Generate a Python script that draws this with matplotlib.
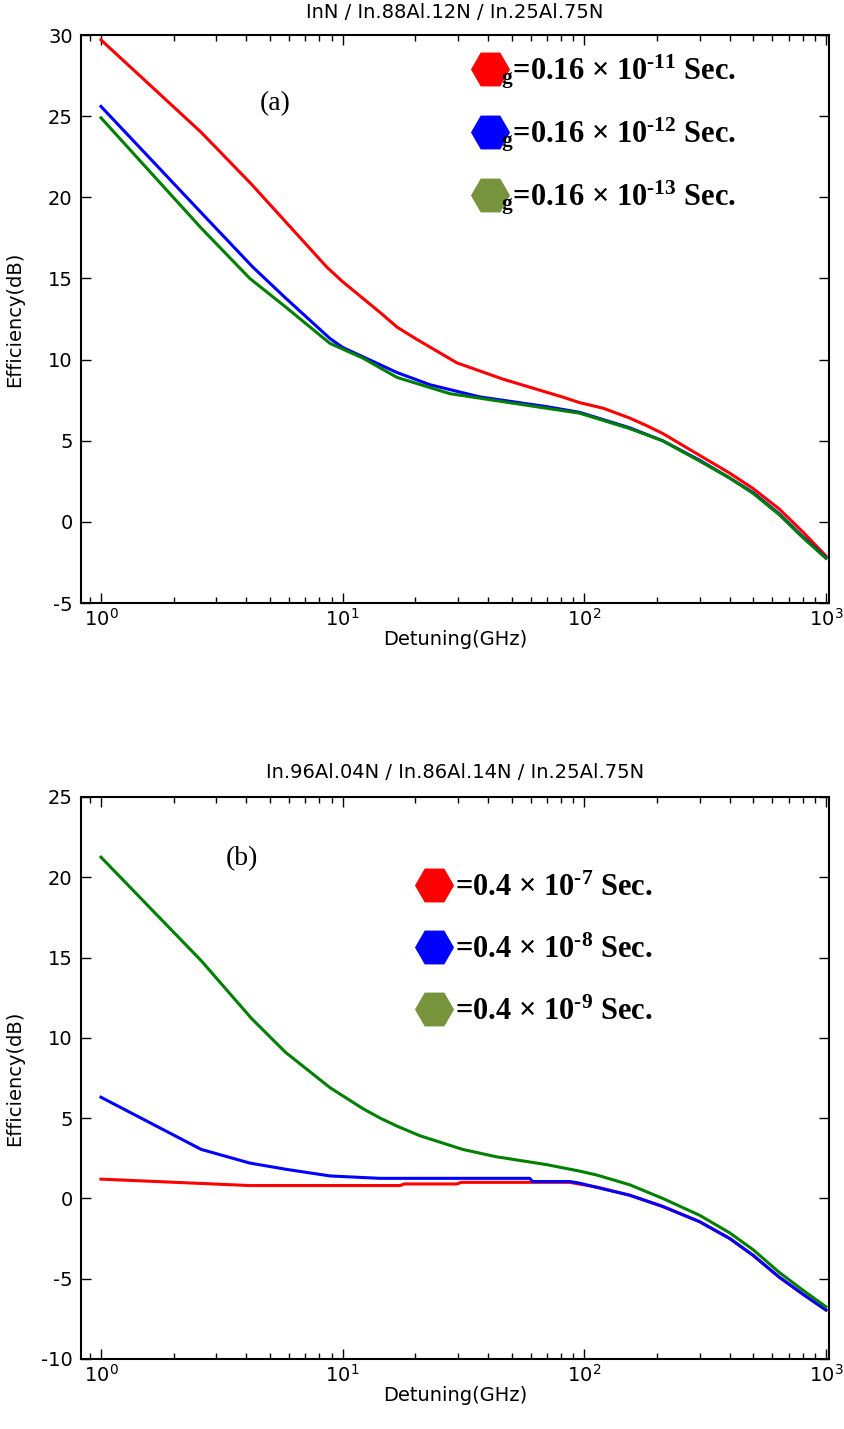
import matplotlib.pyplot as plt
from matplotlib.lines import Line2D

plt.rcParams['axes.unicode_minus'] = False

# panel (a): InN / In.88Al.12N / In.25Al.75N
a_red_x = [1, 2.6, 4.2, 5.8, 8.6, 10, 14.3, 16.8, 20, 29.7, 46, 81, 95.6, 120, 154, 180, 211, 250, 300, 400, 500, 640, 800, 1000]
a_red_y = [29.7, 24.0, 20.8, 18.5, 15.7, 14.8, 12.9, 12.0, 11.3, 9.8, 8.8, 7.7, 7.35, 7.0, 6.4, 5.95, 5.45, 4.8, 4.1, 3.0, 2.05, 0.8, -0.6, -2.1]
a_blue_x = [1, 2.6, 4.25, 5.8, 8.86, 10, 13.3, 16.8, 23, 37, 70, 95.6, 154, 211, 300, 400, 500, 640, 800, 1000]
a_blue_y = [25.6, 19.05, 15.7, 13.8, 11.3, 10.75, 9.9, 9.2, 8.45, 7.7, 7.1, 6.75, 5.8, 5.0, 3.8, 2.7, 1.8, 0.5, -0.9, -2.2]
a_green_x = [1, 2.6, 4.13, 5.8, 8.86, 12.1, 16.8, 27.8, 70, 95.6, 154, 211, 300, 400, 500, 640, 800, 1000]
a_green_y = [24.9, 18.1, 15.0, 13.25, 11.0, 10.1, 8.9, 7.9, 7.0, 6.7, 5.75, 5.0, 3.75, 2.7, 1.75, 0.45, -0.95, -2.25]

# panel (b): In.96Al.04N / In.86Al.14N / In.25Al.75N
b_red_x = [1, 4.13, 17.3, 18, 29.7, 31, 87, 113, 154, 211, 300, 400, 500, 640, 800, 1000]
b_red_y = [1.2, 0.8, 0.8, 0.9, 0.9, 1.0, 1.0, 0.7, 0.2, -0.5, -1.45, -2.5, -3.55, -4.9, -5.95, -6.95]
b_blue_x = [1, 2.6, 4.13, 5.9, 8.86, 12.1, 14.3, 59.5, 61, 87, 95.6, 113, 154, 211, 300, 400, 500, 640, 800, 1000]
b_blue_y = [6.3, 3.05, 2.2, 1.8, 1.4, 1.3, 1.25, 1.25, 1.05, 1.05, 0.95, 0.68, 0.2, -0.5, -1.45, -2.5, -3.55, -4.9, -5.95, -6.95]
b_green_x = [1, 2.6, 4.2, 5.8, 8.86, 12.1, 14.3, 16.8, 20.9, 31.4, 43, 70, 95.6, 113, 154, 211, 300, 400, 500, 640, 800, 1000]
b_green_y = [21.25, 14.8, 11.2, 9.1, 6.9, 5.6, 5.0, 4.5, 3.9, 3.05, 2.6, 2.1, 1.7, 1.45, 0.85, 0.0, -1.05, -2.15, -3.2, -4.6, -5.7, -6.75]

line_colors = ['#ff0000', '#0000ff', '#008000']
marker_colors = ['#ff0000', '#0000ff', '#77933c']

labels_a = [r"$\mathregular{_{g}}$=0.16 × 10$\mathregular{^{‐11}}$ Sec.",
            r"$\mathregular{_{g}}$=0.16 × 10$\mathregular{^{‐12}}$ Sec.",
            r"$\mathregular{_{g}}$=0.16 × 10$\mathregular{^{‐13}}$ Sec."]
labels_b = [r"=0.4 × 10$\mathregular{^{‐7}}$ Sec.",
            r"=0.4 × 10$\mathregular{^{‐8}}$ Sec.",
            r"=0.4 × 10$\mathregular{^{‐9}}$ Sec."]

xticks = [1, 10, 100, 1000]
xtick_labels = [r"$\mathregular{10^{0}}$", r"$\mathregular{10^{1}}$",
                r"$\mathregular{10^{2}}$", r"$\mathregular{10^{3}}$"]

fig = plt.figure(figsize=(8.45, 14.29), dpi=100)
ax1 = fig.add_axes([0.0959, 0.578, 0.885, 0.3975])
ax2 = fig.add_axes([0.0959, 0.049, 0.885, 0.3933])


def style(ax, title, ylim, yticks, title_pad):
    ax.set_xscale('log')
    ax.set_xlim(0.827, 1028)
    ax.set_ylim(*ylim)
    ax.set_yticks(yticks)
    ax.set_xticks(xticks)
    ax.set_xticklabels(xtick_labels)
    ax.tick_params(which='both', direction='in', top=True, right=True, labelsize=14, width=1)
    ax.tick_params(which='major', length=7)
    ax.tick_params(which='minor', length=4)
    ax.tick_params(axis='y', pad=6)
    for s in ax.spines.values():
        s.set_linewidth(1.5)
    ax.set_xlabel('Detuning(GHz)', fontsize=14, labelpad=0)
    ax.set_ylabel('Efficiency(dB)', fontsize=14)
    ax.yaxis.set_label_coords(-0.076, 0.5)
    ax.set_title(title, fontsize=14, pad=title_pad)


ax1.plot(a_red_x, a_red_y, color=line_colors[0], lw=2.2)
ax1.plot(a_blue_x, a_blue_y, color=line_colors[1], lw=2.2)
ax1.plot(a_green_x, a_green_y, color=line_colors[2], lw=2.2)
style(ax1, 'InN / In.88Al.12N / In.25Al.75N', (-5, 30), range(-5, 31, 5), 12)

ax2.plot(b_red_x, b_red_y, color=line_colors[0], lw=2.2)
ax2.plot(b_blue_x, b_blue_y, color=line_colors[1], lw=2.2)
ax2.plot(b_green_x, b_green_y, color=line_colors[2], lw=2.2)
style(ax2, 'In.96Al.04N / In.86Al.14N / In.25Al.75N', (-10, 25), range(-10, 26, 5), 14)

handles = [Line2D([], [], ls='none', marker='H', ms=27, mfc=c, mec=c) for c in marker_colors]
leg_font = dict(family='Liberation Serif', weight='bold', size=22)

ax1.legend(handles, labels_a, prop=leg_font, frameon=False, loc='upper left',
           bbox_to_anchor=(0.516, 0.97), borderaxespad=0, borderpad=0,
           handlelength=1.5, handletextpad=-0.4, labelspacing=0.8)
ax2.legend(handles, labels_b, prop=leg_font, frameon=False, loc='upper left',
           bbox_to_anchor=(0.441, 0.864), borderaxespad=0, borderpad=0,
           handlelength=1.5, handletextpad=-0.05, labelspacing=1.08)

ax1.text(0.259, 0.88, '(a)', transform=ax1.transAxes, ha='center', va='center',
         family='Liberation Serif', fontsize=20)
ax2.text(0.215, 0.891, '(b)', transform=ax2.transAxes, ha='center', va='center',
         family='Liberation Serif', fontsize=20)

fig.savefig('out.png', dpi=100)
